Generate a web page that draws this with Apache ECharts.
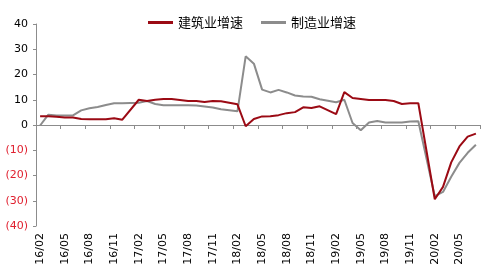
<!DOCTYPE html>
<html>
<head>
<meta charset="utf-8">
<script src="https://cdn.jsdelivr.net/npm/echarts@6/dist/echarts.min.js"></script>
<style>
  html, body { margin: 0; padding: 0; background: #fff; }
  #chart { width: 489px; height: 274px; }
</style>
</head>
<body>
<div id="chart"></div>
<script>
// 月份 16/02 - 20/07（1月数据缺失，用 null）
const months = [
  "16/02", "16/03", "16/04", "16/05", "16/06", "16/07", "16/08", "16/09", "16/10", "16/11", "16/12",
  "17/01", "17/02", "17/03", "17/04", "17/05", "17/06", "17/07", "17/08", "17/09", "17/10", "17/11", "17/12",
  "18/01", "18/02", "18/03", "18/04", "18/05", "18/06", "18/07", "18/08", "18/09", "18/10", "18/11", "18/12",
  "19/01", "19/02", "19/03", "19/04", "19/05", "19/06", "19/07", "19/08", "19/09", "19/10", "19/11", "19/12",
  "20/01", "20/02", "20/03", "20/04", "20/05", "20/06", "20/07"
]
// 建筑业增速
const construction = [
  3.5, 3.5, 3.3, 3.0, 3.0, 2.4, 2.3, 2.3, 2.3, 2.7, 2.1,
  null, 10.0, 9.5, 10.0, 10.3, 10.3, 9.9, 9.5, 9.5, 9.1, 9.5, 9.4,
  null, 8.2, -0.5, 2.4, 3.4, 3.5, 3.9, 4.7, 5.1, 7.0, 6.7, 7.4,
  null, 4.3, 13.0, 10.7, 10.3, 9.9, 9.9, 9.9, 9.5, 8.3, 8.6, 8.6,
  null, -29.4, -24.5, -14.8, -8.5, -4.6, -3.4
]
// 制造业增速
const manufacturing = [
  -0.2, 4.1, 3.8, 3.8, 3.8, 5.8, 6.6, 7.1, 7.9, 8.6, 8.6,
  null, 8.8, 9.5, 8.3, 7.8, 7.8, 7.8, 7.8, 7.7, 7.3, 6.9, 6.2,
  null, 5.4, 27.2, 24.3, 14.0, 12.9, 13.9, 12.9, 11.7, 11.3, 11.2, 10.2,
  null, 9.0, 10.0, 0.8, -2.1, 1.0, 1.6, 1.0, 1.0, 1.0, 1.4, 1.5,
  null, -28.2, -26.5, -20.5, -15.0, -11.0, -7.8
]
const yTicks = [-40, -30, -20, -10, 0, 10, 20, 30, 40]

const myChart = echarts.init(document.getElementById("chart"))
const axisGray = "#8c8c8c"
const option = {
  animation: false,
  textStyle: { fontFamily: "DejaVu Sans" },
  legend: {
    top: 11,
    left: 143,
    itemWidth: 25,
    itemHeight: 3,
    itemGap: 18,
    icon: "rect",
    textStyle: { fontFamily: "Noto Sans CJK SC", fontSize: 13, color: "#000" },
    data: ["建筑业增速", "制造业增速"]
  },
  grid: { left: 36, right: 9, top: 24, bottom: 48 },
  xAxis: [
    {
      // 零线 + 刻度
      type: "category",
      data: months,
      boundaryGap: true,
      axisLine: { onZero: true, lineStyle: { color: axisGray, width: 1 } },
      axisTick: { show: true, interval: 2, length: 4, lineStyle: { color: axisGray } },
      axisLabel: { show: false }
    },
    {
      // 底部竖排标签
      type: "category",
      data: months,
      boundaryGap: true,
      position: "bottom",
      axisLine: { show: false, onZero: false },
      axisTick: { show: false },
      axisLabel: {
        interval: 2,
        rotate: 90,
        margin: 7,
        fontSize: 11,
        color: "#000"
      }
    }
  ],
  yAxis: {
    type: "value",
    min: yTicks[0],
    max: yTicks[yTicks.length - 1],
    interval: 10,
    axisLine: { show: true, lineStyle: { color: axisGray } },
    axisTick: { show: true, length: 3, lineStyle: { color: axisGray } },
    splitLine: { show: false },
    axisLabel: {
      margin: 8,
      fontSize: 11,
      formatter: (v) => (v < 0 ? "(" + Math.abs(v) + ")" : String(v)),
      color: (v) => (Number(v) < 0 ? "#e0202f" : "#000")
    }
  },
  series: [
    {
      name: "建筑业增速",
      type: "line",
      data: construction,
      connectNulls: true,
      showSymbol: false,
      symbol: "none",
      z: 3,
      lineStyle: { color: "#9b0a14", width: 2 },
      itemStyle: { color: "#9b0a14" }
    },
    {
      name: "制造业增速",
      type: "line",
      data: manufacturing,
      connectNulls: true,
      showSymbol: false,
      symbol: "none",
      z: 2,
      lineStyle: { color: "#8c8c8c", width: 2 },
      itemStyle: { color: "#8c8c8c" }
    }
  ]
}
myChart.setOption(option)
</script>
</body>
</html>
